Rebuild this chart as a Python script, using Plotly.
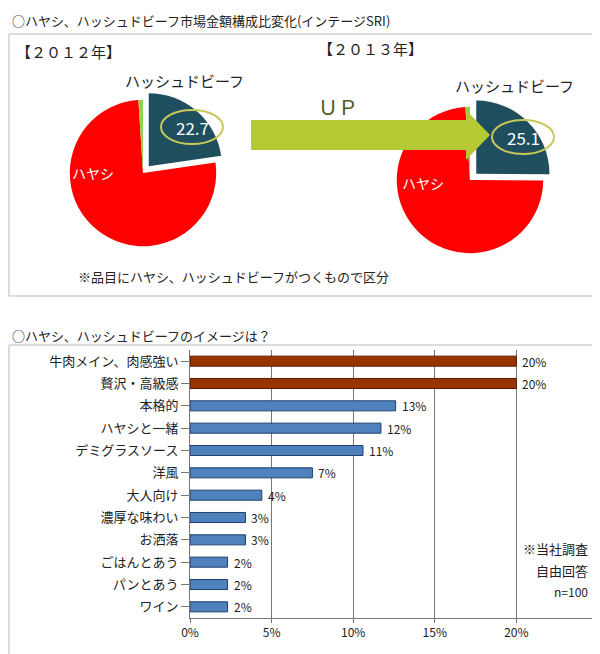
import plotly.graph_objects as go

W, H = 600, 654
FONT = "Noto Sans CJK JP"

# ---- data ----
pie_labels = ["ハッシュドビーフ", "ハヤシ", "その他"]
pie_2012 = [22.7, 76.3, 1.0]
pie_2013 = [25.1, 73.9, 1.0]
pie_colors = ["#1f4e5f", "#ff0000", "#92d050"]

categories = ["牛肉メイン、肉感強い", "贅沢・高級感", "本格的", "ハヤシと一緒", "デミグラスソース",
              "洋風", "大人向け", "濃厚な味わい", "お洒落", "ごはんとあう", "パンとあう", "ワイン"]
values = [20.0, 20.0, 12.6, 11.7, 10.6, 7.5, 4.4, 3.4, 3.4, 2.3, 2.3, 2.3]
value_labels = ["20%", "20%", "13%", "12%", "11%", "7%", "4%", "3%", "3%", "2%", "2%", "2%"]
x_ticks = [0, 5, 10, 15, 20, 25]

def px(x): return x / W
def py(y): return 1 - y / H

fig = go.Figure()

def add_pie(vals, cx, cy, r):
    fig.add_trace(go.Pie(
        values=vals, labels=pie_labels, sort=False, direction="clockwise", rotation=0,
        marker=dict(colors=pie_colors, line=dict(color="white", width=0)),
        pull=[0.12, 0, 0], textinfo="none", hoverinfo="label+value", showlegend=False,
        domain=dict(x=[px(cx - r), px(cx + r)], y=[py(cy + r), py(cy - r)])))

add_pie(pie_2012, 135, 165, 82)
add_pie(pie_2013, 462, 172, 82)

bar_colors = ["#993300" if i < 2 else "#4f81bd" for i in range(len(values))]
line_colors = ["#5a1a00" if i < 2 else "#1f3f6f" for i in range(len(values))]
fig.add_trace(go.Bar(
    y=categories, x=values, orientation="h", xaxis="x", yaxis="y",
    marker=dict(color=bar_colors, line=dict(color=line_colors, width=1)),
    width=0.45, hoverinfo="x+y", showlegend=False))
for c, v, t in zip(categories, values, value_labels):
    fig.add_annotation(x=v, y=c, xref="x", yref="y", text=t, showarrow=False, xanchor="left",
                       xshift=4, font=dict(size=12, color="#222", family=FONT))

fig.update_layout(
    width=W, height=H, margin=dict(l=0, r=0, t=0, b=0),
    paper_bgcolor="white", plot_bgcolor="white",
    font=dict(family=FONT, color="#222"),
    xaxis=dict(domain=[px(182), px(590)], range=[0, 25], tickvals=x_ticks,
               ticktext=[f"{t}%" for t in x_ticks], showgrid=True, gridcolor="#777",
               gridwidth=1, showline=True, linecolor="#777", ticks="outside",
               tickcolor="#777", ticklen=4, tickfont=dict(size=12), zeroline=False,
               anchor="y", fixedrange=True, automargin=False),
    yaxis=dict(domain=[py(610), py(342)], autorange="reversed", showline=True,
               linecolor="#777", ticks="outside", tickcolor="#777", ticklen=8,
               tickfont=dict(size=13), anchor="x", fixedrange=True, automargin=False),
    bargap=0.5,
)

shapes = [
    dict(type="rect", xref="paper", yref="paper", x0=px(1), x1=px(599), y0=py(288), y1=py(26),
         line=dict(color="#bbb", width=1)),
    dict(type="rect", xref="paper", yref="paper", x0=px(1), x1=px(599), y0=py(650), y1=py(337),
         line=dict(color="#bbb", width=1)),
    # arrow
    dict(type="path", xref="paper", yref="paper",
         path=f"M {px(243)} {py(112)} L {px(458)} {py(112)} L {px(458)} {py(102)} L {px(482)} {py(127)} "
              f"L {px(458)} {py(152)} L {px(458)} {py(142)} L {px(243)} {py(142)} Z",
         fillcolor="#b5c934", line=dict(width=0)),
    dict(type="circle", xref="paper", yref="paper", x0=px(153), x1=px(215), y0=py(136), y1=py(102),
         line=dict(color="#c8c85a", width=2)),
    dict(type="circle", xref="paper", yref="paper", x0=px(484), x1=px(546), y0=py(146), y1=py(112),
         line=dict(color="#c8c85a", width=2)),
]
fig.update_layout(shapes=shapes)

def note(x, y, text, size=13, color="#222", anchor="left", family=FONT):
    fig.add_annotation(xref="paper", yref="paper", x=px(x), y=py(y), text=text, showarrow=False,
                       xanchor=anchor, yanchor="middle", font=dict(size=size, color=color, family=family))

note(2, 12, "○ハヤシ、ハッシュドビーフ市場金額構成比変化(インテージSRI)", 13)
note(6, 44, "【２０１２年】", 15)
note(308, 41, "【２０１３年】", 15)
note(115, 72, "ハッシュドビーフ", 15)
note(445, 77, "ハッシュドビーフ", 15)
note(184, 119, "22.7", 17, "white", "center")
note(515, 129, "25.1", 17, "white", "center")
note(330, 98, "ＵＰ", 20, "#4f5a1a", "center")
note(85, 165, "ハヤシ", 14, "white", "center")
note(415, 175, "ハヤシ", 14, "white", "center")
note(68, 268, "※品目にハヤシ、ハッシュドビーフがつくもので区分", 13)
note(2, 327, "○ハヤシ、ハッシュドビーフのイメージは？", 13)
note(582, 540, "※当社調査", 13, anchor="right")
note(582, 562, "自由回答", 13, anchor="right")
note(582, 583, "n=100", 12, anchor="right")

fig.write_html("out.html")
